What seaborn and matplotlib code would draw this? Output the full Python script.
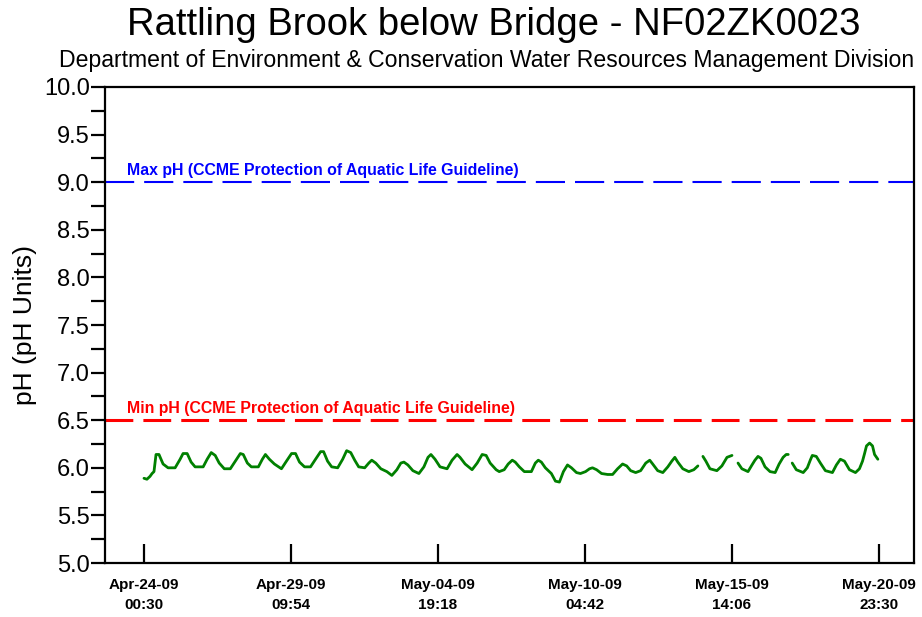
import numpy as np
import pandas as pd
import matplotlib
matplotlib.use("Agg")
import matplotlib.pyplot as plt
import seaborn as sns

start = pd.Timestamp("2009-04-24 00:30")

# hours since Apr-24-09 00:30, pH readings, logger segment id (gaps between segments)
hours = [0, 2.6, 5.3, 7.1, 8.8, 10.6, 13.2, 16.8, 21.2, 27.4, 31.8, 34.4, 38.0, 41.5, 45.0,
         52.1, 55.6, 59.2, 62.7, 66.2, 70.7, 76.0, 80.4, 84.8, 87.4, 91.0, 94.5, 100.7,
         104.2, 106.9, 110.4, 114.8, 121.0, 125.4, 129.9, 133.4, 136.9, 141.3, 146.6,
         151.0, 155.5, 158.1, 161.6, 165.2, 170.5, 174.9, 178.4, 182.0, 185.5, 189.0,
         194.3, 197.9, 200.5, 204.0, 208.5, 213.8, 218.2, 222.6, 226.1, 228.8, 232.3,
         236.7, 242.0, 246.4, 250.0, 252.6, 256.2, 260.6, 266.8, 271.2, 275.6, 278.2,
         282.7, 288.8, 293.3, 297.7, 301.2, 304.7, 310.0, 312.7, 317.1, 320.6, 324.2,
         326.8, 330.4, 334.8, 341.0, 344.5, 347.1, 349.8, 353.3, 358.6, 362.2, 365.7,
         369.2, 372.8, 376.3, 380.7, 384.2, 388.7, 392.2, 394.8, 398.4, 402.8, 408.1,
         412.5, 416.9, 421.3, 424.9, 428.4, 432.8, 437.2, 441.7, 445.2, 447.8, 452.2,
         456.7, 461.1, 464.6, 467.3, 469.9, 474.3, 479.6, 484.0, 487.6,
         492.0, 494.6, 498.2, 504.3, 508.7, 513.2, 517.6,
         522.9, 526.3, 531.7, 535.2, 537.8, 540.5, 543.1, 546.7, 551.1, 555.6, 559.1,
         562.6, 565.3, 567.1,
         570.6, 574.2, 580.3, 583.9, 586.5, 588.3, 591.8, 595.4, 599.8, 606.0, 609.5,
         613.0, 616.6, 621.0, 626.3, 629.8, 632.5, 634.3, 636.0, 638.7, 641.3, 643.1, 646.0]
ph = [5.89, 5.88, 5.91, 5.94, 5.96, 6.14, 6.14, 6.04, 6.00, 6.00, 6.09, 6.15, 6.15, 6.06, 6.01,
      6.01, 6.09, 6.16, 6.13, 6.05, 5.99, 5.99, 6.07, 6.15, 6.14, 6.05, 6.01, 6.01,
      6.09, 6.14, 6.09, 6.04, 5.99, 6.07, 6.15, 6.15, 6.06, 6.01, 6.01,
      6.09, 6.17, 6.17, 6.07, 6.01, 6.00, 6.09, 6.18, 6.16, 6.08, 6.01,
      6.00, 6.05, 6.08, 6.05, 5.99, 5.96, 5.92, 5.98, 6.05, 6.06, 6.03,
      5.97, 5.94, 6.01, 6.11, 6.14, 6.09, 6.01, 5.99, 6.08, 6.14, 6.11,
      6.04, 5.98, 6.05, 6.14, 6.13, 6.05, 5.98, 5.96, 5.98, 6.04, 6.08,
      6.06, 6.01, 5.96, 5.96, 6.05, 6.08, 6.06, 6.00, 5.94, 5.86, 5.85,
      5.96, 6.03, 6.00, 5.95, 5.94, 5.96, 5.99, 6.00, 5.98, 5.94, 5.93,
      5.93, 5.99, 6.04, 6.02, 5.97, 5.95, 5.97, 6.05, 6.08, 6.04, 5.97,
      5.95, 6.01, 6.07, 6.11, 6.06, 5.99, 5.96, 5.98, 6.02,
      6.12, 6.07, 5.99, 5.97, 6.02, 6.11, 6.13,
      6.05, 5.99, 5.96, 6.03, 6.08, 6.12, 6.10, 6.01, 5.96, 5.95, 6.04,
      6.11, 6.14, 6.14,
      6.05, 5.98, 5.95, 6.00, 6.08, 6.13, 6.12, 6.05, 5.97, 5.95, 6.03,
      6.09, 6.07, 5.98, 5.95, 5.99, 6.07, 6.15, 6.23, 6.26, 6.23, 6.14, 6.09]
seg = [0] * 125 + [1] * 7 + [2] * 14 + [3] * 23

tick_labels = ["Apr-24-09\n00:30", "Apr-29-09\n09:54", "May-04-09\n19:18",
               "May-10-09\n04:42", "May-15-09\n14:06", "May-20-09\n23:30"]
max_ph = 9.0
min_ph = 6.5

df = pd.DataFrame({"time": start + pd.to_timedelta(hours, unit="h"), "ph": ph, "seg": seg})
tick_times = [start + pd.Timedelta(minutes=7764 * i) for i in range(6)]

sns.set_style("white")
plt.rcParams["font.family"] = ["Liberation Sans", "DejaVu Sans"]
plt.rcParams["text.color"] = "black"
plt.rcParams["axes.labelcolor"] = "black"
plt.rcParams["xtick.color"] = "black"
plt.rcParams["ytick.color"] = "black"

fig = plt.figure(figsize=(9.22, 6.17), dpi=100)
ax = fig.add_axes([0.1139, 0.0875, 0.8774, 0.7715])

sns.lineplot(data=df, x="time", y="ph", units="seg", estimator=None,
             color="#008000", lw=2.0, ax=ax)

ax.axhline(max_ph, color="#0000ff", lw=1.5, dashes=(14, 4.8))
ax.axhline(min_ph, color="#ff0000", lw=2.2, dashes=(9.1, 3.3))
x0 = start - pd.Timedelta(hours=34.3)
x1 = tick_times[-1] + pd.Timedelta(hours=30.8)
ax.set_xlim(x0, x1)
ax.set_ylim(5.0, 10.0)

lab_x = start - pd.Timedelta(hours=15)
ax.text(lab_x, max_ph + 0.04, "Max pH (CCME Protection of Aquatic Life Guideline)",
        color="#0000ff", fontsize=11.4, fontweight="bold", va="bottom", ha="left")
ax.text(lab_x, min_ph + 0.04, "Min pH (CCME Protection of Aquatic Life Guideline)",
        color="#ff0000", fontsize=11.4, fontweight="bold", va="bottom", ha="left")

ax.set_yticks(np.arange(5.0, 10.01, 0.5))
ax.set_yticklabels(["%.1f" % v for v in np.arange(5.0, 10.01, 0.5)], fontsize=17)
ax.set_yticks(np.arange(5.25, 10.0, 0.5), minor=True)
ax.tick_params(axis="y", which="both", direction="out", length=10, width=1.6, left=True, pad=1)

ax.set_xticks(tick_times)
ax.set_xticklabels(tick_labels, fontsize=11, fontweight="bold", linespacing=1.5)
ax.tick_params(axis="x", which="major", direction="in", length=14, width=1.6, bottom=True, pad=11)

for s in ax.spines.values():
    s.set_color("black")
    s.set_linewidth(1.6)

ax.set_xlabel("")
ax.set_ylabel("pH (pH Units)", fontsize=19, labelpad=5)

fig.text(0.535, 0.96, "Rattling Brook below Bridge - NF02ZK0023", ha="center", va="center",
         fontsize=27.5)
fig.text(0.528, 0.902, "Department of Environment & Conservation Water Resources Management Division",
         ha="center", va="center", fontsize=16.6)

fig.savefig("out.png", dpi=100)
